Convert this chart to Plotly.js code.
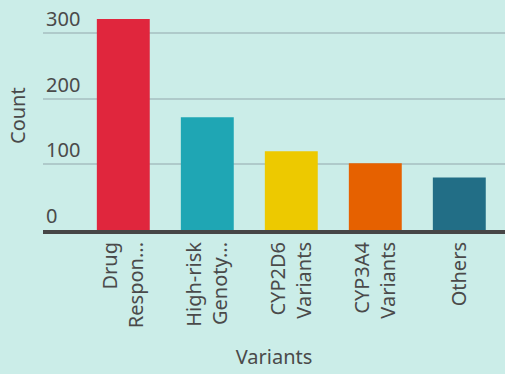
<!DOCTYPE html>
<html>
<head>
<meta charset="utf-8">
<script src="https://cdn.plot.ly/plotly-3.0.1.min.js"></script>
<style>
html,body{margin:0;padding:0;background:#cbede8;}
#chart{width:505px;height:374px;}
</style>
</head>
<body>
<div id="chart"></div>
<script>
const categories = ['Drug Response', 'High-risk Genotypes', 'CYP2D6 Variants', 'CYP3A4 Variants', 'Others'];
const tickLabels = ['Drug<br>Respon...', 'High-risk<br>Genoty...', 'CYP2D6<br>Variants', 'CYP3A4<br>Variants', 'Others'];
const counts = [322, 172, 120, 102, 80];
const barColors = ['#e0263d', '#1fa6b4', '#edc900', '#e66100', '#226e86'];
const yTicks = [0, 100, 200, 300];

const font = 'Noto Sans, Open Sans, sans-serif';
const textColor = '#4a4a4a';

Plotly.newPlot('chart', [{
  type: 'bar',
  x: categories,
  y: counts,
  marker: {color: barColors},
  hoverinfo: 'none'
}], {
  width: 505,
  height: 374,
  paper_bgcolor: '#cbede8',
  plot_bgcolor: '#cbede8',
  margin: {l: 43, r: 0, t: 0, b: 144, pad: 0},
  bargap: 0.37,
  showlegend: false,
  font: {family: font, size: 20, color: textColor},
  xaxis: {
    type: 'category',
    range: [-0.956, 4.544],
    tickmode: 'array',
    tickvals: categories,
    ticktext: tickLabels,
    tickangle: -90,
    ticks: '',
    showgrid: false,
    showline: true,
    linecolor: '#464646',
    linewidth: 4,
    zeroline: false,
    automargin: false,
    tickfont: {family: font, size: 20, color: textColor},
    title: {text: 'Variants', font: {family: font, size: 20, color: textColor}, standoff: 24}
  },
  yaxis: {
    range: [0, 351],
    tickmode: 'array',
    tickvals: yTicks,
    ticktext: yTicks.map(String),
    ticklabelposition: 'inside top',
    ticks: '',
    showgrid: true,
    gridcolor: '#afcaca',
    gridwidth: 2,
    zeroline: false,
    showline: false,
    automargin: false,
    tickfont: {family: font, size: 20, color: textColor}
  },
  annotations: [{
    text: 'Count',
    xref: 'paper', yref: 'paper',
    x: -0.0563, y: 0.5,
    xanchor: 'center', yanchor: 'middle',
    textangle: -90,
    showarrow: false,
    font: {family: font, size: 20, color: textColor}
  }]
}, {displayModeBar: false, staticPlot: true});
</script>
</body>
</html>
